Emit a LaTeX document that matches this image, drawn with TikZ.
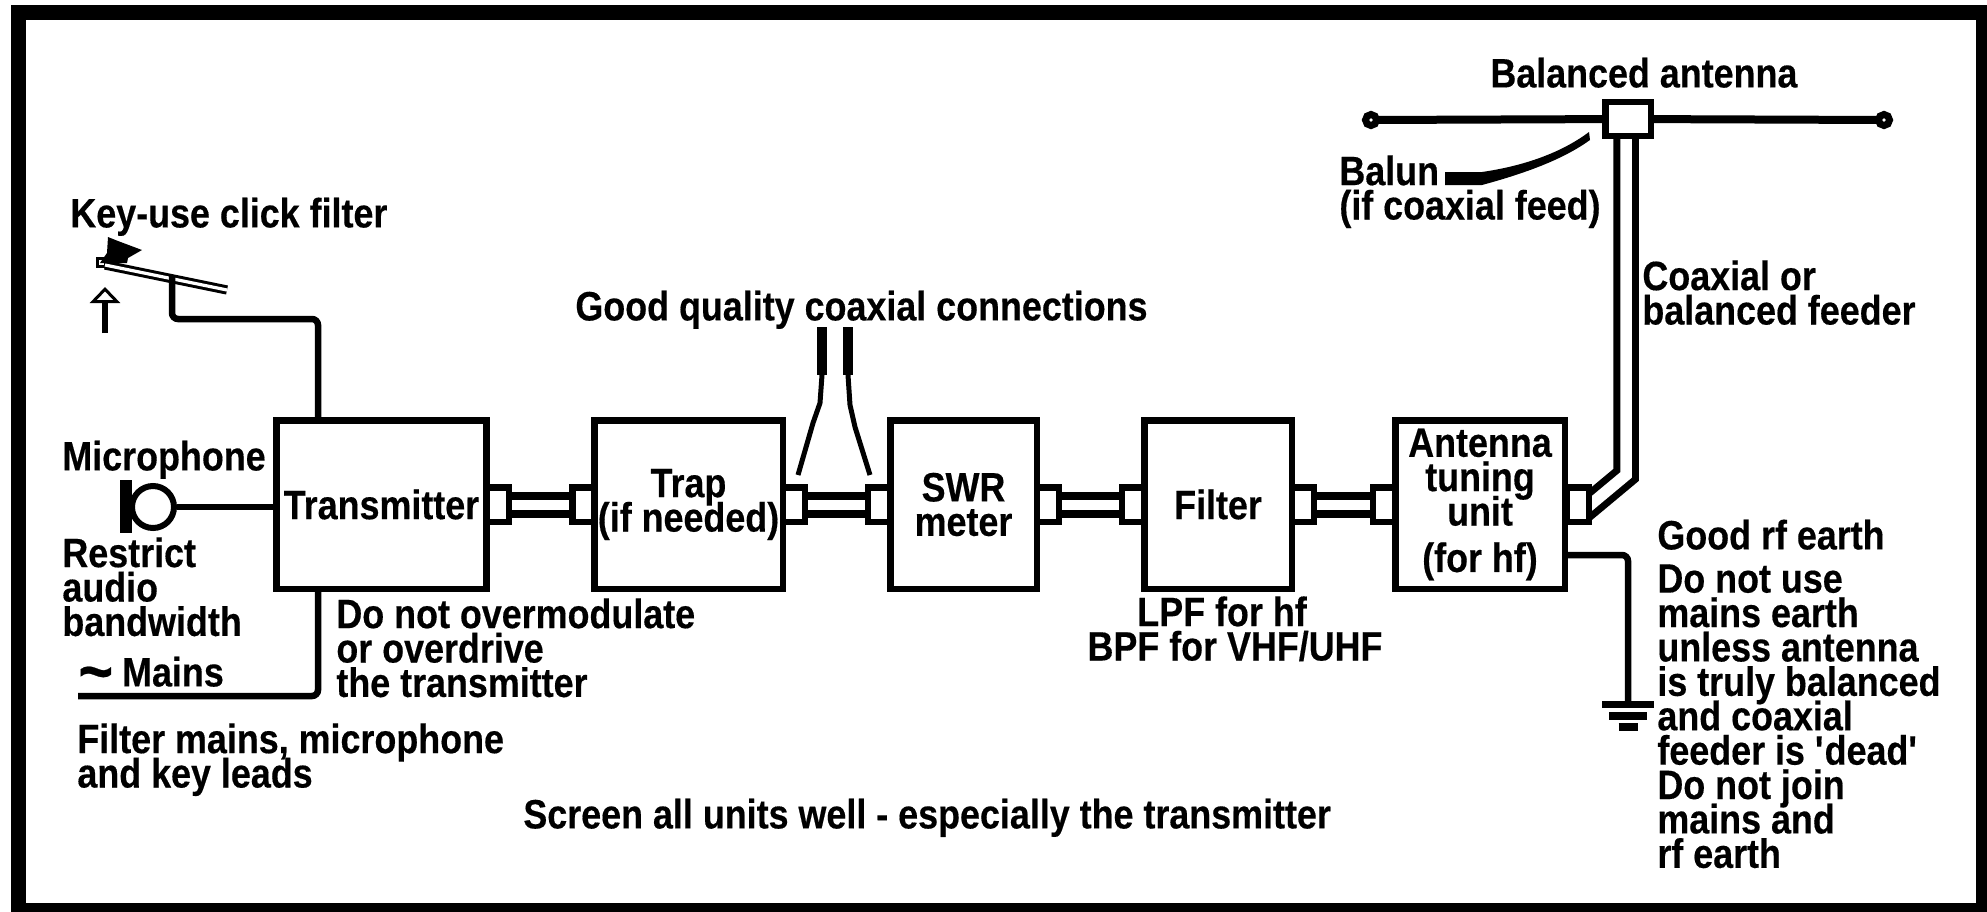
\documentclass[tikz,border=0pt]{standalone}
\usepackage{fontspec}
\setmainfont{Liberation Sans}[FakeStretch=.875,BoldFeatures={FakeBold=.35}]
\usetikzlibrary{arrows.meta}
\newcommand\pixfont{\fontsize{20.5}{17.2}\selectfont\bfseries\lineskiplimit=-30pt}
\tikzset{
  unitbox/.style={draw,line width=3.25pt,font=\pixfont,align=center,inner sep=0pt},
  port/.style={draw,fill=white,line width=3.25pt,minimum width=11pt,minimum height=17.25pt,inner sep=0pt},
  antend/.style={circle,draw,line width=3.5pt,fill=white,minimum size=5.5pt,inner sep=0pt,outer sep=0pt},
  coax/.style={double,line width=4pt,double distance=5pt},
  feeder/.style={double,line width=3.5pt,double distance=5.75pt},
  wire/.style={line width=3.25pt,rounded corners=3pt},
  lbl/.style={anchor=north west,align=left,inner sep=0pt,font=\pixfont,
    execute at begin node={\rule{0pt}{15pt}}},
  lblc/.style={lbl,anchor=north,align=center},
}
\begin{document}
\begin{tikzpicture}[x=.5pt,y=-.5pt]
  \useasboundingbox (0,0) rectangle (1987,911);
  \draw[line width=7.5pt] (18.5,12.5) rectangle (1983.5,910.5);

  % the chain of units
  \node[unitbox,minimum width=105pt,minimum height=84.25pt] (tx) at (381.5,504.5) {Transmitter};
  \node[unitbox,minimum width=94.25pt,minimum height=84.25pt] (trap) at (688.5,504.5) {Trap\\(if needed)};
  \node[unitbox,minimum width=73.25pt,minimum height=84.25pt] (swr) at (963.5,504.5) {SWR\\meter};
  \node[unitbox,minimum width=73.75pt,minimum height=84.25pt] (filter) at (1218,504.5) {Filter};
  \node[unitbox,minimum width=84.75pt,minimum height=84.25pt] (atu) at (1480,504.5) {Antenna\\tuning\\unit\\[6pt](for hf)};

  \node[port] (txout) at (497.75,504.5) {};
  \node[port] (trapin) at (583.25,504.5) {};
  \node[port] (trapout) at (793.75,504.5) {};
  \node[port] (swrin) at (879,504.5) {};
  \node[port] (swrout) at (1047.75,504.5) {};
  \node[port] (filterin) at (1133,504.5) {};
  \node[port] (filterout) at (1303,504.5) {};
  \node[port] (atuin) at (1384,504.5) {};

  \draw[coax] (txout) -- (trapin);
  \draw[coax] (trapout) -- (swrin);
  \draw[coax] (swrout) -- (filterin);
  \draw[coax] (filterout) -- (atuin);

  % antenna and feeder
  \node[draw,fill=white,line width=3.25pt,minimum width=22.75pt,minimum height=17pt,inner sep=0pt] (balun) at (1628,119) {};
  \node[antend] (antl) at (1371,120) {};
  \node[antend] (antr) at (1884,120) {};
  \draw[line width=4pt] (antl) -- (balun);
  \draw[line width=4pt] (balun) -- (antr);
  \coordinate (feedtop) at (1626,139);
  \coordinate (feedbend) at (1626,475);
  \coordinate (feedend) at (1578,515);
  \draw[feeder] (feedtop) -- (feedbend) -- (feedend);
  \node[port] (atuout) at (1578,504.5) {};
  \fill (1445,172) -- (1482,172) .. controls (1530,165) and (1565,150) .. (1589,132) -- (1590,140)
    .. controls (1565,158) and (1530,172) .. (1482,185) -- (1445,185) -- cycle;

  % key
  \coordinate (keyl) at (105,265);
  \coordinate (keyr) at (227,290);
  \coordinate (keypost) at (172,275);
  \coordinate (keywire) at (318,319);
  \node[draw,fill=white,line width=1.5pt,minimum size=4pt,inner sep=0pt] (keyend) at (101,262) {};
  \draw[double,line width=1.5pt,double distance=1.6pt] (keyl) -- (keyr);
  \fill (108,237) -- (118,241) -- (142,250) -- (128,258) -- (127,263) -- (100,263) -- (107,253) -- cycle;
  \draw[wire] (keypost) |- (keywire) -- (keywire |- tx.north);
  \coordinate (keyarrowb) at (105,333);
  \coordinate (keyarrowt) at (105,287);
  \draw[line width=3pt,-{Triangle[open,length=8pt,width=15pt,line width=1.5pt]}] (keyarrowb) -- (keyarrowt);

  % microphone and mains
  \node[circle,draw,line width=3pt,fill=white,minimum size=21pt,inner sep=0pt] (mic) at (153,507) {};
  \node[fill=black,minimum width=6pt,minimum height=26.5pt,inner sep=0pt] (micbar) at (126,506.5) {};
  \draw[line width=3.25pt] (mic) -- (mic -| tx.west);
  \coordinate (mainsend) at (78,696);
  \draw[wire] (tx.south -| keywire) |- (mainsend);

  % earth
  \coordinate (earthtap) at (1568,555);
  \coordinate (earthtop) at (1628,704);
  \draw[wire] (earthtap) -| (earthtop);
  \foreach \yb/\hw in {704.5/26,716/19,727/9.5}
    \draw[line width=3.75pt] ({1628-\hw},\yb) -- ({1628+\hw},\yb);

  % pointers to the connections
  \coordinate (ptla) at (822,327);
  \coordinate (ptlb) at (822,375);
  \coordinate (ptlc) at (798,475);
  \coordinate (ptra) at (848,327);
  \coordinate (ptrb) at (848,375);
  \coordinate (ptrc) at (870,475);
  \draw[line width=5pt] (ptla) -- (ptlb);
  \draw[line width=2.5pt] (ptlb) -- (820,403) -- (813,423) -- (ptlc);
  \draw[line width=5pt] (ptra) -- (ptrb);
  \draw[line width=2.5pt] (ptrb) -- (850,405) -- (855,427) -- (ptrc);

  % texts
  \node[lbl] (lbkey) at (70,197) {Key-use click filter};
  \node[lbl] (lbmic) at (62,440) {Microphone};
  \node[lbl] (lbaudio) at (62,537) {Restrict\\audio\\bandwidth};
  \node[lbl] (lbover) at (336,598) {Do not overmodulate\\or overdrive\\the transmitter};
  \node[lbl] (lbmains) at (78,656) {{\fontsize{34}{17}\selectfont\raisebox{-4pt}{\textasciitilde}}\hspace*{4.5pt}Mains};
  \node[lbl] (lbfilter) at (77,723) {Filter mains, microphone\\and key leads};
  \node[lbl] (lbgood) at (575,290) {Good quality coaxial connections};
  \node[lblc] (lbpf) at (1235,596) {LPF for hf\hspace*{13pt}\\BPF for VHF/UHF};
  \node[lbl] (lbscreen) at (523,798) {Screen all units well - especially the transmitter};
  \node[lbl] (lbearth) at (1657,519) {Good rf earth};
  \node[lbl] (lbnote) at (1657,564) {Do not use\\mains earth\\unless antenna\\is truly balanced\\and coaxial\\feeder is \textquotesingle dead\textquotesingle\\Do not join\\mains and\\rf earth};
  \node[lbl] (lbbalun) at (1339,155) {Balun\\(if coaxial feed)};
  \node[lbl] (lbfeeder) at (1642,260) {Coaxial or\\balanced feeder};
  \node[lbl] (lbant) at (1490,57) {Balanced antenna};
\end{tikzpicture}
\end{document}
